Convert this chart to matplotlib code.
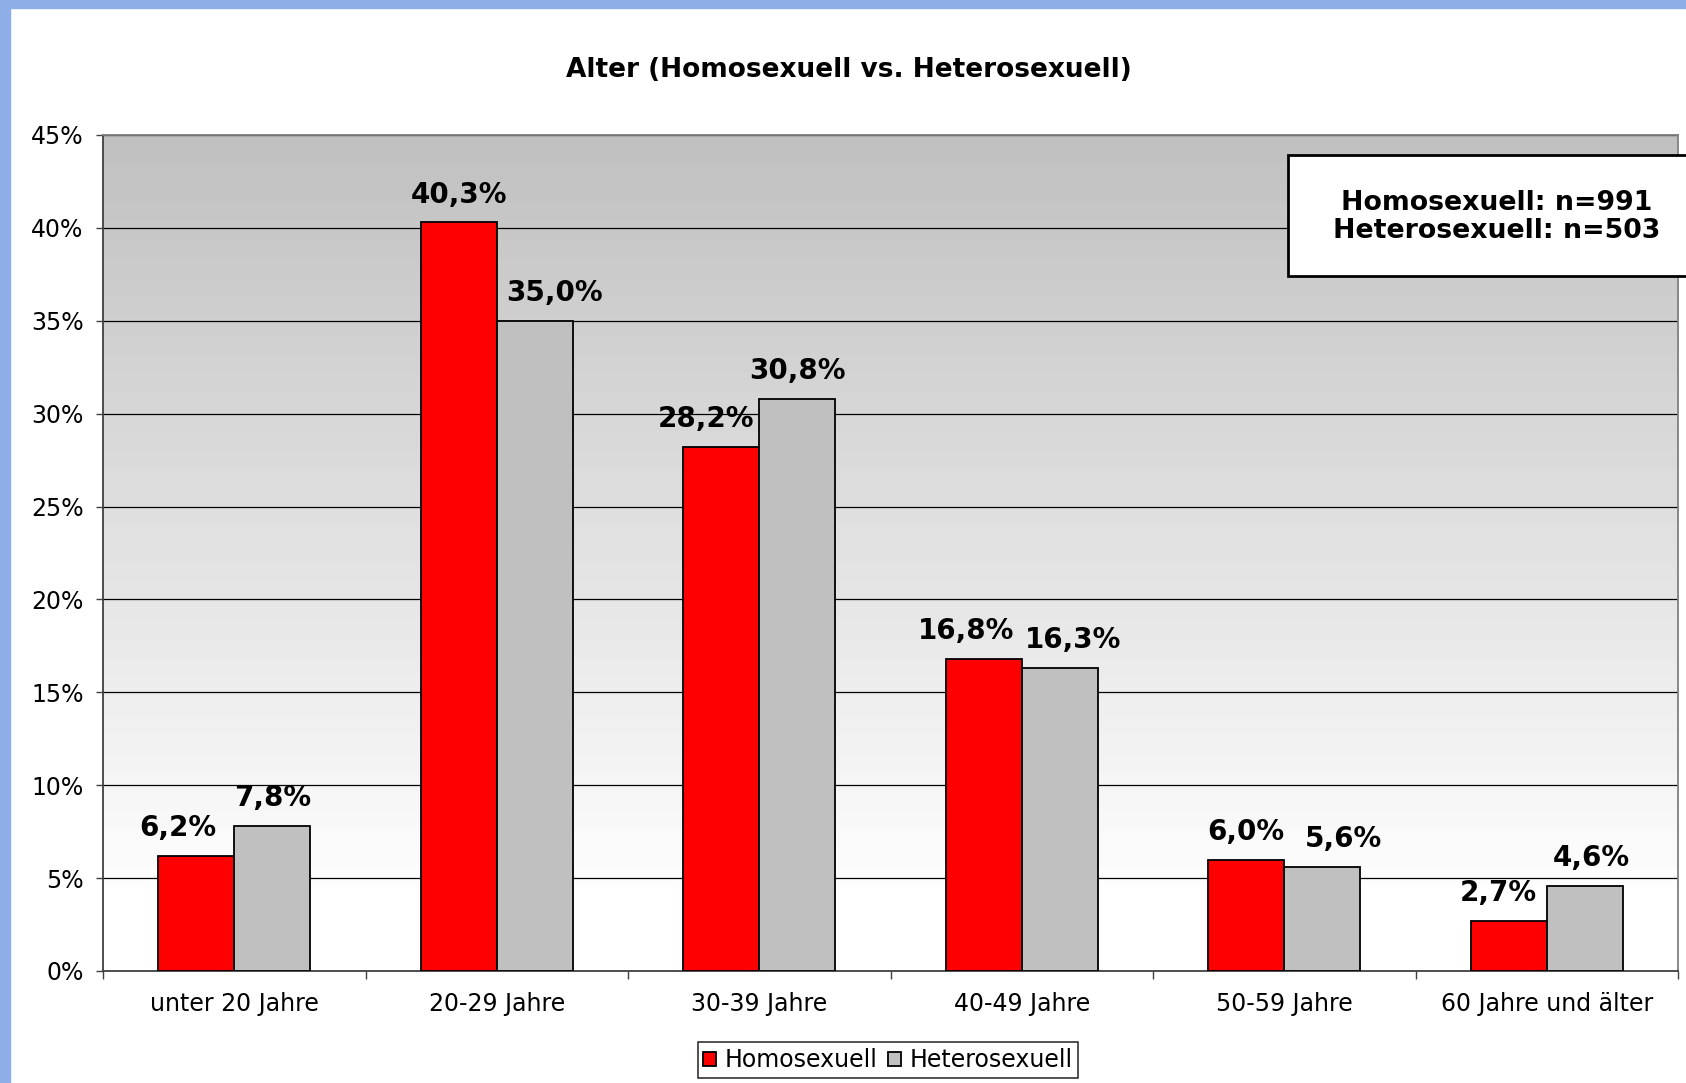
import matplotlib
matplotlib.use("Agg")
import matplotlib.pyplot as plt
import numpy as np
from matplotlib.patches import Rectangle

categories = ["unter 20 Jahre", "20-29 Jahre", "30-39 Jahre", "40-49 Jahre", "50-59 Jahre", "60 Jahre und älter"]
homo = [6.2, 40.3, 28.2, 16.8, 6.0, 2.7]
hetero = [7.8, 35.0, 30.8, 16.3, 5.6, 4.6]
series_names = ["Homosexuell", "Heterosexuell"]
yticks = [0, 5, 10, 15, 20, 25, 30, 35, 40, 45]

# label horizontal nudges (layout only)
homo_nudge = [-0.07, 0.0, -0.057, -0.066, 0.0, -0.04]
hetero_nudge = [0.0, 0.074, 0.0, 0.05, 0.08, 0.025]

plt.rcParams['font.family'] = ['DejaVu Sans']

fig = plt.figure(figsize=(16.86, 10.83), dpi=100)
fig.patch.set_facecolor("white")
# blue frame
fig.patches.append(Rectangle((0, 0), 10/1686, 1, transform=fig.transFigure, color="#8EAEE8", zorder=0))
fig.patches.append(Rectangle((0, 1-8/1083), 1, 8/1083, transform=fig.transFigure, color="#8EAEE8", zorder=0))

ax = fig.add_axes([103/1686, 1-971/1083, (1678-103)/1686, (971-135)/1083])

x = np.arange(len(categories))
w = 0.29
ax.set_xlim(-0.5, len(categories)-0.5)
ax.set_ylim(0, 45)

# gradient background: gray at top -> white near the bottom
yy = np.linspace(0, 45, 512)
vals = np.clip((yy - 4) / 41, 0, 1)
vals = np.round(vals * 40) / 40
col = 1 - vals * (1 - 192/255)
img = np.dstack([col, col, col]).reshape(512, 1, 3)
ax.imshow(img, extent=[-0.5, len(categories)-0.5, 0, 45], origin="lower", aspect="auto", zorder=0, interpolation="nearest")

for yv in yticks[1:]:
    ax.axhline(yv, color="black", lw=0.9, zorder=1)

b1 = ax.bar(x - w/2, homo, w, color="#FF0000", edgecolor="black", linewidth=1.3, zorder=3, label=series_names[0])
b2 = ax.bar(x + w/2, hetero, w, color="#C0C0C0", edgecolor="black", linewidth=1.3, zorder=3, label=series_names[1])

for i in range(len(categories)):
    ax.annotate(f"{homo[i]:.1f}%".replace(".", ","), (x[i] - w/2 + homo_nudge[i], homo[i]),
                xytext=(0, 20), textcoords="offset points", ha="center", va="center",
                fontsize=20, fontweight="bold", zorder=5)
    ax.annotate(f"{hetero[i]:.1f}%".replace(".", ","), (x[i] + w/2 + hetero_nudge[i], hetero[i]),
                xytext=(0, 20), textcoords="offset points", ha="center", va="center",
                fontsize=20, fontweight="bold", zorder=5)

ax.set_yticks(yticks)
ax.set_yticklabels([f"{v}%" for v in yticks], fontsize=17)
ax.set_xticks(x)
ax.set_xticklabels(categories, fontsize=17)
ax.set_xticks(np.arange(-0.5, len(categories), 1.0), minor=True)
ax.tick_params(axis="x", which="major", length=0, pad=15)
ax.tick_params(axis="x", which="minor", length=6, width=1, color="#404040", direction="out")
ax.tick_params(axis="y", length=5, width=1, color="#404040", pad=9, direction="out")

for s in ["left", "bottom"]:
    ax.spines[s].set_color("#404040")
    ax.spines[s].set_linewidth(1.3)
for s in ["top", "right"]:
    ax.spines[s].set_color("#808080")
    ax.spines[s].set_linewidth(1.3)

fig.text(849/1686, 1-70/1083, "Alter (Homosexuell vs. Heterosexuell)", ha="center", va="center",
         fontsize=19, fontweight="bold")

# n box
fig.patches.append(Rectangle((1288/1686, 1-276/1083), (1720-1288)/1686, (276-155)/1083,
                             transform=fig.transFigure, facecolor="white", edgecolor="black", lw=2, zorder=10))
fig.text(1497/1686, 1-217/1083, "Homosexuell: n=991\nHeterosexuell: n=503", ha="center", va="center",
         fontsize=19.3, fontweight="bold", linespacing=1.15, zorder=11)

leg = fig.legend(handles=[b1, b2], labels=series_names, loc="center", bbox_to_anchor=(888/1686, 1-1060/1083),
                 ncol=2, fontsize=17, frameon=True, fancybox=False, shadow=False, edgecolor="black",
                 handlelength=0.55, handleheight=0.55, handletextpad=0.35, columnspacing=0.45,
                 borderpad=0.25, borderaxespad=0)
leg.get_frame().set_linewidth(1.2)

fig.savefig("out.png", dpi=100)
